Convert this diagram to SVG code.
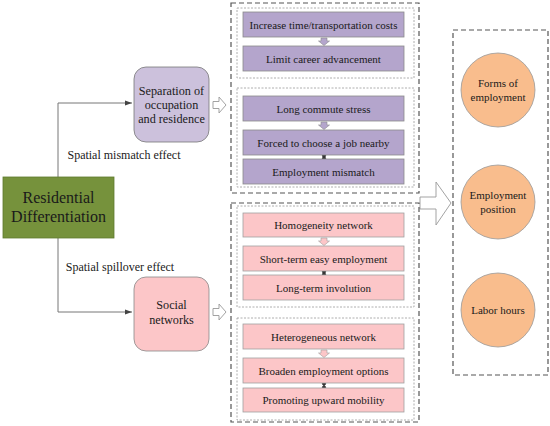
<svg xmlns="http://www.w3.org/2000/svg" width="550" height="426" viewBox="0 0 550 426" font-family="'Liberation Serif', 'DejaVu Serif', serif">
<defs>
<style>
text{font-family:'Liberation Serif','DejaVu Serif',serif;fill:#1a1a1a;text-anchor:middle}
.bar text,.t11{font-size:11px}
.pb{fill:#b4a5cc;stroke:#8a8a8a;stroke-width:0.8}
.kb{fill:#fcc6c8;stroke:#a0a0a0;stroke-width:0.8}
.outer{fill:none;stroke:#555;stroke-width:1.2;stroke-dasharray:5,3}
.inner{fill:none;stroke:#999;stroke-width:0.8;stroke-dasharray:2,1.5}
.conn{fill:none;stroke:#777;stroke-width:1}
.hollow{fill:#fff;stroke:#999;stroke-width:0.9}
.circ{fill:#f9bd8d;stroke:#999;stroke-width:0.8}
.lbl{font-size:12px}
.nd{font-size:12.2px}
</style>
<marker id="ah" markerWidth="8" markerHeight="8" refX="7" refY="4" orient="auto" markerUnits="userSpaceOnUse">
<path d="M0,1.5 L7,4 L0,6.5 Z" fill="#444"/>
</marker>
</defs>
<rect width="550" height="426" fill="#fff"/>

<g id="connectors">
<path class="conn" d="M58,177 V103 H132" marker-end="url(#ah)"/>
<path class="conn" d="M58,238 V312 H132" marker-end="url(#ah)"/>
<text class="lbl" x="124" y="159">Spatial mismatch effect</text>
<text class="lbl" x="120" y="271">Spatial spillover effect</text>
<path class="hollow" d="M213,101.5 H219 V97 L226,105 L219,113 V108.5 H213 Z"/>
<path class="hollow" d="M213,308.5 H219 V304 L226,312 L219,320 V315.5 H213 Z"/>
<path class="hollow" d="M420,197 H436 V182 L451,203 L436,225 V209 H420 Z"/>
<path fill="#b4a5cc" stroke="#8a8a8a" stroke-width="0.6" d="M321,38 H327 V41 H329.5 L324,45.5 L318.5,41 H321 Z"/>
<path fill="#b4a5cc" stroke="#8a8a8a" stroke-width="0.6" d="M321,122 H327 V125 H329.5 L324,129.5 L318.5,125 H321 Z"/>
<path fill="#fcc6c8" stroke="#a0a0a0" stroke-width="0.6" d="M321,238 H327 V241 H329.5 L324,245.5 L318.5,241 H321 Z"/>
<path fill="#fcc6c8" stroke="#a0a0a0" stroke-width="0.6" d="M321,350 H327 V353 H329.5 L324,357.5 L318.5,353 H321 Z"/>
<g fill="#333" stroke="#333" stroke-width="1">
<line x1="324" y1="155" x2="324" y2="159"/><circle cx="324" cy="155.5" r="1.6"/><circle cx="324" cy="158.5" r="1.6"/>
<line x1="324" y1="271" x2="324" y2="275"/><circle cx="324" cy="271.5" r="1.6"/><circle cx="324" cy="274.5" r="1.6"/>
<line x1="324" y1="383" x2="324" y2="388"/><circle cx="324" cy="383.5" r="1.6"/><circle cx="324" cy="387.5" r="1.6"/>
</g>
</g>

<g id="residential">
<rect x="3" y="177" width="111" height="61" fill="#76923c" stroke="#5f7a2e" stroke-width="0.8"/>
<text x="58.5" y="203" style="font-size:16px">Residential</text>
<text x="58.5" y="222" style="font-size:16px">Differentiation</text>
</g>

<g id="separation">
<rect x="134" y="67" width="75" height="75" rx="12" fill="#ccc1dc" stroke="#777" stroke-width="0.8"/>
<text class="nd" x="171.5" y="95">Separation of</text>
<text class="nd" x="171.5" y="109">occupation</text>
<text class="nd" x="171.5" y="123">and residence</text>
</g>

<g id="social">
<rect x="134" y="277" width="75" height="74" rx="12" fill="#fcc6c8" stroke="#888" stroke-width="0.8"/>
<text class="nd" x="171.5" y="309">Social</text>
<text class="nd" x="171.5" y="324">networks</text>
</g>

<g id="mismatch-group">
<rect class="outer" x="231" y="3" width="188" height="190"/>
<rect class="inner" x="237" y="8" width="177" height="70"/>
<rect class="inner" x="237" y="88" width="177" height="99"/>
</g>
<g id="bar1" class="bar"><rect class="pb" x="243" y="12" width="161" height="25"/><text x="323.5" y="28.5">Increase time/transportation costs</text></g>
<g id="bar2" class="bar"><rect class="pb" x="243" y="46" width="161" height="25"/><text x="323.5" y="62.5">Limit career advancement</text></g>
<g id="bar3" class="bar"><rect class="pb" x="243" y="96" width="161" height="25"/><text x="323.5" y="112.5">Long commute stress</text></g>
<g id="bar4" class="bar"><rect class="pb" x="243" y="130" width="161" height="25"/><text x="323.5" y="146.5">Forced to choose a job nearby</text></g>
<g id="bar5" class="bar"><rect class="pb" x="243" y="159" width="161" height="25"/><text x="323.5" y="175.5">Employment mismatch</text></g>

<g id="spillover-group">
<rect class="outer" x="231" y="203" width="188" height="219"/>
<rect class="inner" x="237" y="206" width="177" height="101"/>
<rect class="inner" x="237" y="318" width="177" height="102"/>
</g>
<g id="bar6" class="bar"><rect class="kb" x="243" y="213" width="161" height="24"/><text x="323.5" y="229">Homogeneity network</text></g>
<g id="bar7" class="bar"><rect class="kb" x="243" y="246" width="161" height="25"/><text x="323.5" y="262.5">Short-term easy employment</text></g>
<g id="bar8" class="bar"><rect class="kb" x="243" y="275" width="161" height="25"/><text x="323.5" y="291.5">Long-term involution</text></g>
<g id="bar9" class="bar"><rect class="kb" x="243" y="324" width="161" height="25"/><text x="323.5" y="340.5">Heterogeneous network</text></g>
<g id="bar10" class="bar"><rect class="kb" x="243" y="358" width="161" height="25"/><text x="323.5" y="374.5">Broaden employment options</text></g>
<g id="bar11" class="bar"><rect class="kb" x="243" y="388" width="161" height="24"/><text x="323.5" y="404">Promoting upward mobility</text></g>

<g id="outcomes">
<rect class="outer" x="453" y="30" width="95" height="345"/>
</g>
<g id="forms"><circle class="circ" cx="498" cy="90" r="37"/><text class="t11" x="498" y="87">Forms of</text><text class="t11" x="498" y="101">employment</text></g>
<g id="position"><circle class="circ" cx="498" cy="202" r="37"/><text class="t11" x="498" y="199">Employment</text><text class="t11" x="498" y="213">position</text></g>
<g id="hours"><circle class="circ" cx="498" cy="310" r="37"/><text class="t11" x="498" y="314">Labor hours</text></g>
</svg>
